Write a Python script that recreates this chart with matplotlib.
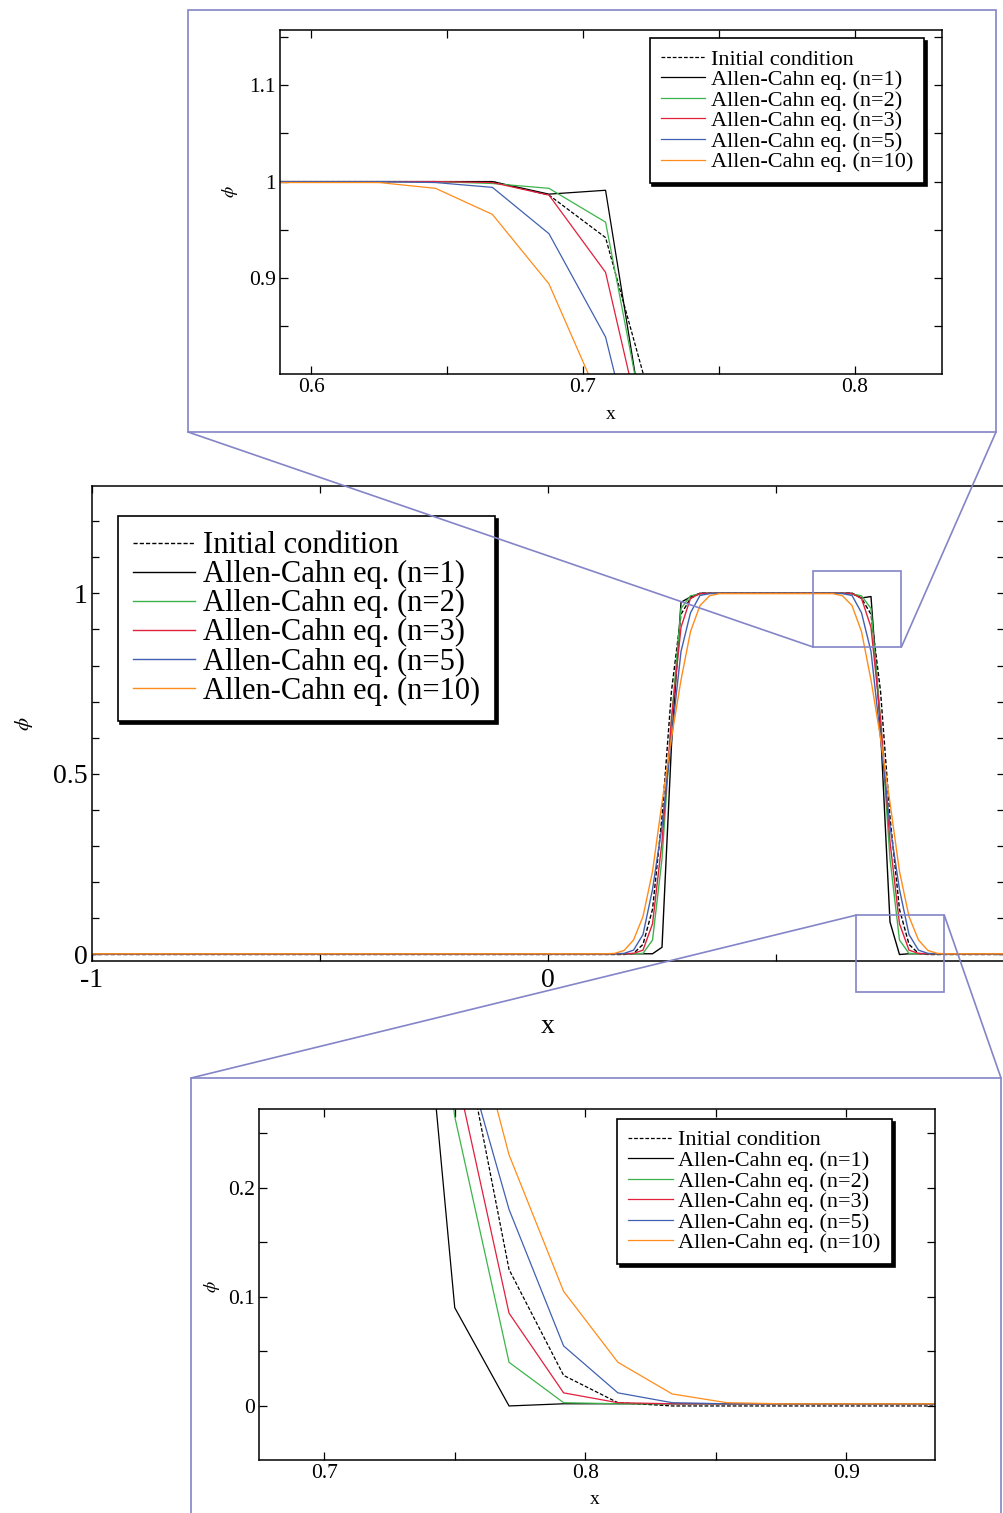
import numpy as np
import matplotlib.pyplot as plt
from matplotlib.patches import Rectangle, ConnectionPatch
from matplotlib.ticker import MultipleLocator, FuncFormatter

plt.rcParams['font.family'] = ['Liberation Serif', 'DejaVu Serif']
plt.rcParams['mathtext.fontset'] = 'stix'
plt.rcParams['axes.unicode_minus'] = False

# grid nodes (spacing 1/48) where the profiles change
x_nodes = [-1.0, 0.125, 0.1458, 0.1667, 0.1875, 0.2083, 0.2292, 0.25, 0.2708,
           0.2917, 0.3125, 0.3333, 0.3542, 0.375,
           0.625, 0.6458, 0.6667, 0.6875, 0.7083, 0.7292, 0.75, 0.7708,
           0.7917, 0.8125, 0.8333, 0.8542, 0.875, 1.0]

phi_ic = [0.0, 0.0, 0.0, 0.0, 0.003, 0.028, 0.125, 0.38, 0.729,
          0.942, 0.986, 1.0, 1.0, 1.0,
          1.0, 1.0, 1.0, 0.986, 0.942, 0.729, 0.38, 0.125,
          0.028, 0.003, 0.0, 0.0, 0.0, 0.0]
phi_n1 = [0.002, 0.002, 0.002, 0.002, 0.002, 0.002, 0.002, 0.02, 0.58,
          0.975, 0.99, 1.0, 1.0, 1.0,
          1.0, 1.0, 1.0, 0.987, 0.991, 0.625, 0.09, 0.0,
          0.002, 0.002, 0.002, 0.002, 0.002, 0.002]
phi_n2 = [0.002, 0.002, 0.002, 0.002, 0.002, 0.003, 0.04, 0.265, 0.651,
          0.958, 0.993, 0.998, 1.0, 1.0,
          1.0, 1.0, 0.998, 0.993, 0.958, 0.651, 0.265, 0.04,
          0.003, 0.002, 0.002, 0.002, 0.002, 0.002]
phi_n3 = [0.002, 0.002, 0.002, 0.002, 0.003, 0.012, 0.085, 0.312, 0.651,
          0.906, 0.986, 0.999, 1.0, 1.0,
          1.0, 1.0, 0.999, 0.986, 0.906, 0.651, 0.312, 0.085,
          0.012, 0.003, 0.002, 0.002, 0.002, 0.002]
phi_n5 = [0.002, 0.002, 0.002, 0.003, 0.012, 0.055, 0.18, 0.355, 0.6,
          0.839, 0.946, 0.994, 0.999, 1.0,
          1.0, 0.999, 0.994, 0.946, 0.839, 0.6, 0.355, 0.18,
          0.055, 0.012, 0.003, 0.002, 0.002, 0.002]
phi_n10 = [0.002, 0.002, 0.003, 0.011, 0.04, 0.105, 0.23, 0.42, 0.6,
           0.76, 0.894, 0.966, 0.993, 0.999,
           0.999, 0.993, 0.966, 0.894, 0.76, 0.6, 0.42, 0.23,
           0.105, 0.04, 0.011, 0.003, 0.002, 0.002]

series = [phi_ic, phi_n1, phi_n2, phi_n3, phi_n5, phi_n10]
labels = ['Initial condition', 'Allen-Cahn eq. (n=1)', 'Allen-Cahn eq. (n=2)',
          'Allen-Cahn eq. (n=3)', 'Allen-Cahn eq. (n=5)', 'Allen-Cahn eq. (n=10)']
colors = ['black', 'black', '#3cb44b', '#e0203c', '#4060b0', '#ff8c1a']
styles = ['--', '-', '-', '-', '-', '-']

PURPLE = '#8484c8'
W, H = 1004, 1513
fig = plt.figure(figsize=(W / 100, H / 100), dpi=100)


def ax_px(x0, y0, x1, y1):
    return fig.add_axes([x0 / W, 1 - y1 / H, (x1 - x0) / W, (y1 - y0) / H])


def draw(ax, lw):
    for ys, lab, c, ls in zip(series, labels, colors, styles):
        ax.plot(x_nodes, ys, ls, color=c, lw=lw, label=lab,
                dashes=(3, 1.5) if ls == '--' else (None, None))


fmt = FuncFormatter(lambda v, p: '%g' % round(v, 3))


def style_ticks(ax, size, length):
    ax.tick_params(which='both', direction='in', top=True, right=True,
                   length=length, width=0.9, labelsize=size, pad=3)
    ax.xaxis.set_major_formatter(fmt)
    ax.yaxis.set_major_formatter(fmt)
    for s in ax.spines.values():
        s.set_linewidth(1.1)


def legend(ax, size, loc, anchor, hl):
    lg = ax.legend(loc=loc, bbox_to_anchor=anchor, fontsize=size,
                   fancybox=False, shadow={'color': 'black', 'alpha': 1},
                   framealpha=1, edgecolor='black', labelspacing=0.0,
                   handlelength=hl, handletextpad=0.25, borderpad=0.5,
                   borderaxespad=0)
    lg.get_frame().set_linewidth(1.2)


# main plot
ax = ax_px(92, 486, 1004, 961)
draw(ax, 1.0)
ax.set_xlim(-1, 1)
ax.set_ylim(-0.018, 1.297)
ax.xaxis.set_major_locator(MultipleLocator(1))
ax.xaxis.set_minor_locator(MultipleLocator(0.5))
ax.yaxis.set_major_locator(MultipleLocator(0.5))
ax.yaxis.set_minor_locator(MultipleLocator(0.1))
style_ticks(ax, 20, 5)
ax.tick_params(axis='x', pad=5)
ax.xaxis.set_major_formatter(FuncFormatter(
    lambda v, p: '' if v > 0.5 else '%g' % v))
ax.set_xlabel('x', fontsize=20)
ax.xaxis.set_label_coords(0.5, -0.112)
ax.set_ylabel(r'$\phi$', fontsize=15)
ax.yaxis.set_label_coords(-0.062, 0.5)
legend(ax, 22, 'upper left', (0.028, 0.937), 2.05)

# zoom boxes on the main plot
ax.add_patch(Rectangle((0.582, 0.851), 0.193, 0.21, fill=False,
                       ec=PURPLE, lw=1.2, clip_on=False, zorder=5))
ax.add_patch(Rectangle((0.676, -0.103), 0.193, 0.212, fill=False,
                       ec=PURPLE, lw=1.2, clip_on=False, zorder=5))

# top inset
ti = ax_px(280, 30, 942, 374)
draw(ti, 0.9)
ti.set_xlim(0.5886, 0.832)
ti.set_ylim(0.8007, 1.157)
ti.xaxis.set_major_locator(MultipleLocator(0.1))
ti.xaxis.set_minor_locator(MultipleLocator(0.05))
ti.yaxis.set_major_locator(MultipleLocator(0.1))
ti.yaxis.set_minor_locator(MultipleLocator(0.05))
style_ticks(ti, 15.5, 5.5)
ti.set_xlabel('x', fontsize=14)
ti.xaxis.set_label_coords(0.5, -0.093)
ti.set_ylabel(r'$\phi$', fontsize=13)
ti.yaxis.set_label_coords(-0.06, 0.529)
legend(ti, 16, 'upper right', (0.973, 0.977), 2.0)

# bottom inset
bi = ax_px(259, 1109, 935, 1460)
draw(bi, 0.9)
bi.set_xlim(0.675, 0.934)
bi.set_ylim(-0.0495, 0.272)
bi.xaxis.set_major_locator(MultipleLocator(0.1))
bi.xaxis.set_minor_locator(MultipleLocator(0.05))
bi.yaxis.set_major_locator(MultipleLocator(0.1))
bi.yaxis.set_minor_locator(MultipleLocator(0.05))
style_ticks(bi, 15.5, 5.5)
bi.set_xlabel('x', fontsize=14)
bi.xaxis.set_label_coords(0.497, -0.088)
bi.set_ylabel(r'$\phi$', fontsize=13)
bi.yaxis.set_label_coords(-0.055, 0.493)
legend(bi, 16, 'upper right', (0.936, 0.972), 2.0)

# purple frames around the insets and connecting lines
fig.add_artist(Rectangle((188 / W, 1 - 432 / H), 808 / W, 422 / H, fill=False,
                         ec=PURPLE, lw=1.2, transform=fig.transFigure))
fig.add_artist(Rectangle((191 / W, 1 - 1530 / H), 810 / W, 452 / H, fill=False,
                         ec=PURPLE, lw=1.2, transform=fig.transFigure))
links = [((188 / W, 1 - 432 / H), (0.582, 0.851)),
         ((996 / W, 1 - 432 / H), (0.775, 0.851)),
         ((191 / W, 1 - 1078 / H), (0.676, 0.109)),
         ((1001 / W, 1 - 1078 / H), (0.869, 0.109))]
for pf, pd in links:
    fig.add_artist(ConnectionPatch(xyA=pf, coordsA=fig.transFigure, xyB=pd,
                                   coordsB=ax.transData, color=PURPLE, lw=1.2,
                                   zorder=10))

fig.savefig('out.png', dpi=100)
